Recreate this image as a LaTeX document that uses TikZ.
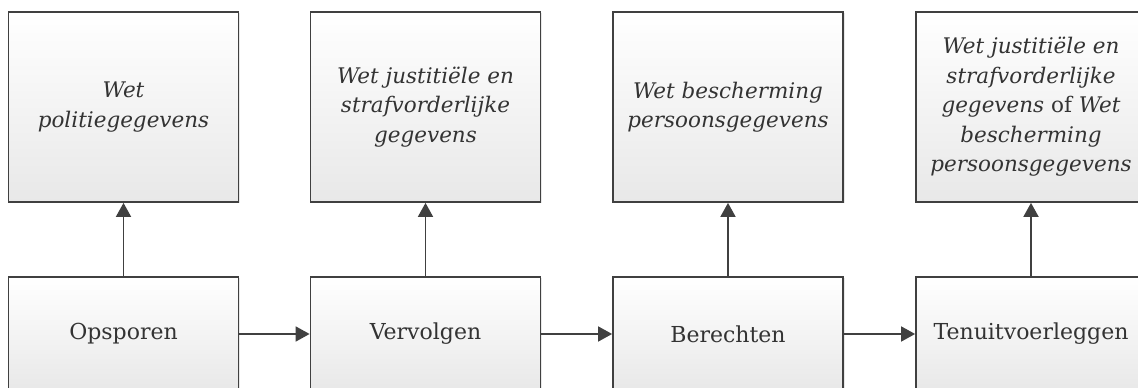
\documentclass[tikz,border=0pt]{standalone}
\usepackage{fontspec}
\setmainfont{DejaVu Serif}
\usetikzlibrary{arrows.meta,shadows}
\definecolor{edge}{HTML}{404040}
\definecolor{ink}{HTML}{333333}
\tikzset{
  box/.style={draw=edge, line width=1.8pt, top color=white, bottom color=black!9,
    minimum width=230pt, text=ink, align=center, inner sep=0pt,
    drop shadow={opacity=0.18, shadow xshift=1.5pt, shadow yshift=-1.5pt}},
  lawbox/.style={box, minimum height=190pt, font=\fontsize{21.5}{29.5}\selectfont\itshape},
  stagebox/.style={box, minimum height=114pt, font=\fontsize{22}{26}\selectfont},
  conn/.style={draw=edge, line width=1.8pt, -{Triangle[length=14pt,width=15pt]}}
}
\begin{document}
\begin{tikzpicture}[x=1pt,y=1pt]
\clip (0,0) rectangle (1138,388);
\fill[white] (0,0) rectangle (1138,388);
\node[lawbox] (l1) at (123.5,281) {Wet\\politiegegevens};
\node[lawbox] (l2) at (425.5,281) {Wet justitiële en\\strafvorderlijke\\gegevens};
\node[lawbox] (l3) at (728,281) {Wet bescherming\\persoonsgegevens};
\node[lawbox] (l4) at (1031,281) {Wet justitiële en\\strafvorderlijke\\gegevens {\upshape of} Wet\\bescherming\\persoonsgegevens};
\node[stagebox] (s1) at (123.5,54) {Opsporen};
\node[stagebox] (s2) at (425.5,54) {Vervolgen};
\node[stagebox] (s3) at (728,54) {Berechten};
\node[stagebox] (s4) at (1031,54) {Tenuitvoerleggen};
\draw[conn] (s1) -- (l1);
\draw[conn] (s2) -- (l2);
\draw[conn] (s3) -- (l3);
\draw[conn] (s4) -- (l4);
\draw[conn] (s1) -- (s2);
\draw[conn] (s2) -- (s3);
\draw[conn] (s3) -- (s4);
\end{tikzpicture}
\end{document}
